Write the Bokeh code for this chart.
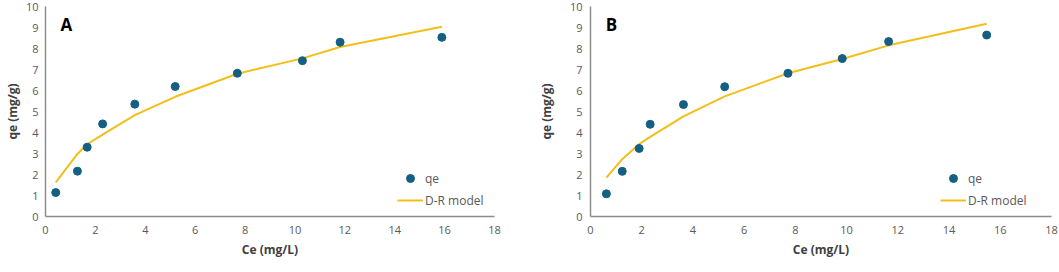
from bokeh.plotting import figure
from bokeh.layouts import row
from bokeh.models import Legend, LegendItem, Label, FixedTicker, Range1d
from bokeh.embed import file_html
from bokeh.resources import INLINE

# Panel A data
ce_a = [0.41, 1.28, 1.67, 2.29, 3.58, 5.20, 7.69, 10.30, 11.81, 15.89]
qe_a = [1.14, 2.16, 3.30, 4.41, 5.35, 6.19, 6.82, 7.42, 8.30, 8.53]
dr_a = [1.63, 2.98, 3.44, 3.90, 4.83, 5.70, 6.80, 7.53, 8.07, 9.04]

# Panel B data
ce_b = [0.62, 1.24, 1.90, 2.33, 3.63, 5.24, 7.71, 9.83, 11.64, 15.47]
qe_b = [1.08, 2.15, 3.24, 4.39, 5.33, 6.18, 6.82, 7.52, 8.33, 8.64]
dr_b = [1.85, 2.73, 3.45, 3.79, 4.77, 5.72, 6.82, 7.50, 8.15, 9.18]

x_ticks = [0, 2, 4, 6, 8, 10, 12, 14, 16, 18]
y_ticks = [0, 1, 2, 3, 4, 5, 6, 7, 8, 9, 10]
panel_labels = ["A", "B"]

MARKER = "#156082"
LINE = "#F4BE1A"
AXIS = "#8c8c8c"
TICK = "#595959"
TITLE = "#404040"
FONT = "Open Sans"


def make_panel(ce, qe, dr, name, border_left, frame_w, border_right,
               ylab_standoff, tick_standoff, legend_x):
    p = figure(frame_width=frame_w, frame_height=210,
               min_border_left=border_left, min_border_right=border_right,
               min_border_top=6, min_border_bottom=40,
               x_range=Range1d(0, 18), y_range=Range1d(0, 10),
               output_backend="svg", toolbar_location=None)
    p.outline_line_color = None
    p.xgrid.visible = False
    p.ygrid.visible = False
    for ax in (p.xaxis[0], p.yaxis[0]):
        ax.axis_line_color = AXIS
        ax.axis_line_width = 1.5
        ax.major_tick_line_color = None
        ax.minor_tick_line_color = None
        ax.major_tick_out = 0
        ax.major_tick_in = 0
        ax.major_label_text_color = TICK
        ax.major_label_text_font = FONT
        ax.major_label_text_font_size = "11px"
        ax.axis_label_text_color = TITLE
        ax.axis_label_text_font = FONT
        ax.axis_label_text_font_size = "12px"
        ax.axis_label_text_font_style = "bold"
    p.xaxis.ticker = FixedTicker(ticks=x_ticks)
    p.yaxis.ticker = FixedTicker(ticks=y_ticks)
    p.xaxis.axis_label = "Ce (mg/L)"
    p.yaxis.axis_label = "qe (mg/g)"
    p.xaxis.major_label_standoff = 9
    p.xaxis.axis_label_standoff = 4
    p.yaxis.major_label_standoff = tick_standoff
    p.yaxis.axis_label_standoff = ylab_standoff

    r_line = p.line(ce, dr, line_color=LINE, line_width=2)
    r_pts = p.scatter(ce, qe, size=8, fill_color=MARKER, line_color=MARKER)

    legend = Legend(items=[LegendItem(label="qe", renderers=[r_pts]),
                           LegendItem(label="D-R model", renderers=[r_line])],
                    location=(legend_x, 6), padding=0, spacing=2,
                    glyph_width=26, glyph_height=20, label_height=20,
                    label_standoff=2,
                    label_text_font=FONT, label_text_font_size="12px",
                    label_text_color=TICK,
                    background_fill_alpha=0, border_line_color=None)
    p.add_layout(legend)

    p.add_layout(Label(x=0.6, y=8.6, text=name, text_font=FONT,
                       text_font_size="17px", text_font_style="bold",
                       text_color="black"))
    return p


pa = make_panel(ce_a, qe_a, dr_a, panel_labels[0], 33, 449, 40, 2, 7, 352)
pb = make_panel(ce_b, qe_b, dr_b, panel_labels[1], 51, 461, 9, 12, 8, 350)

layout = row(pa, pb, spacing=0)
open("out.html", "w").write(file_html(layout, INLINE))
